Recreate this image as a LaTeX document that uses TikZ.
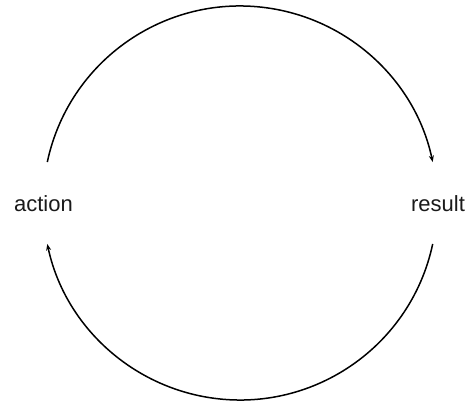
\documentclass[tikz,border=0pt]{standalone}
\usepackage{fontspec}
\setmainfont{Liberation Sans}
\usepackage{tikz}
\usetikzlibrary{positioning,arrows.meta}
\definecolor{ink}{HTML}{1A1A1A}
\tikzset{
  lbl/.style={font=\fontsize{22}{26}\selectfont,text=ink,inner sep=0pt,anchor=base},
  ar/.style={-{Stealth[length=6.5pt,width=5pt]},line width=1.5pt,draw=black},
}
\begin{document}
\begin{tikzpicture}[x=1pt,y=1pt]
  \useasboundingbox[fill=white] (0,0) rectangle (470,404);
  \node[lbl] (act) at (43.5,192) {action};
  \node[lbl] (res) at (438,192) {result};
  \coordinate (c) at (240,201);
  \path (c) ++(168:197) coordinate (tl);
  \path (c) ++(-12:197) coordinate (br);
  \draw[ar] (tl) arc[start angle=168,end angle=12,radius=197];
  \draw[ar] (br) arc[start angle=-12,end angle=-168,radius=197];
\end{tikzpicture}
\end{document}
